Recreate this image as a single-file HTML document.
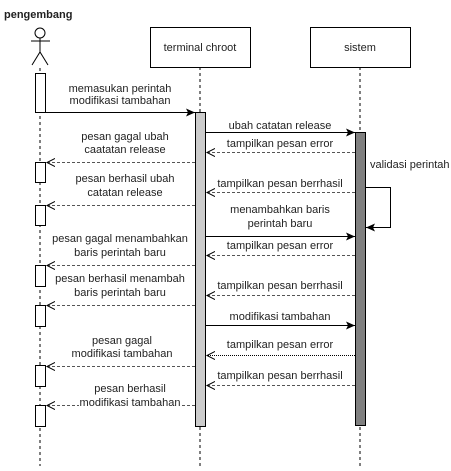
<!DOCTYPE html>
<html><head><style>body{margin:0;background:#fff}text{font-family:"Liberation Sans",Arial,sans-serif;font-size:11px;fill:#222}</style></head><body>
<svg width="451" height="466" xmlns="http://www.w3.org/2000/svg">
<defs>
<marker id="f" markerWidth="10" markerHeight="8" refX="9" refY="4" orient="auto" markerUnits="userSpaceOnUse"><path d="M0,0 L9,4 L0,8 L2,4 Z" fill="#000"/></marker>
<marker id="o" markerWidth="10" markerHeight="10" refX="8" refY="5" orient="auto" markerUnits="userSpaceOnUse"><path d="M0,1 L8,5 L0,9" fill="none" stroke="#000"/></marker>
</defs>
<text x="4" y="18" style="font-weight:bold">pengembang</text>
<circle cx="40" cy="33" r="5" fill="#fff" stroke="#000"/>
<line x1="40" y1="38" x2="40" y2="52" stroke="#000"/>
<line x1="31" y1="41" x2="50" y2="41" stroke="#000"/>
<path d="M32,65 L40,52 L48,65" fill="none" stroke="#000"/>
<g stroke="#000" stroke-dasharray="3,3">
<line x1="40" y1="68" x2="40" y2="466"/>
<line x1="200" y1="67" x2="200" y2="466"/>
<line x1="360" y1="67" x2="360" y2="466"/>
</g>
<rect x="150.5" y="27.5" width="100" height="40" fill="#fff" stroke="#000"/>
<text x="200" y="51" text-anchor="middle">terminal chroot</text>
<rect x="310.5" y="27.5" width="100" height="40" fill="#fff" stroke="#000"/>
<text x="360" y="51" text-anchor="middle">sistem</text>
<g fill="#fff" stroke="#000">
<rect x="35.5" y="73.5" width="10" height="39"/>
<rect x="35.5" y="162.5" width="10" height="20"/>
<rect x="35.5" y="205.5" width="10" height="20"/>
<rect x="35.5" y="265.5" width="10" height="21"/>
<rect x="35.5" y="305.5" width="10" height="21"/>
<rect x="35.5" y="365.5" width="10" height="21"/>
<rect x="35.5" y="405.5" width="10" height="21"/>
</g>
<rect x="195.5" y="112.5" width="10" height="314" fill="#ccc" stroke="#000"/>
<rect x="355.5" y="132.5" width="10" height="293" fill="#808080" stroke="#000"/>
<g stroke="#000" fill="none">
<line x1="45" y1="112.5" x2="195" y2="112.5" marker-end="url(#f)"/>
<line x1="205" y1="132.5" x2="355" y2="132.5" marker-end="url(#f)"/>
<line x1="205" y1="236.5" x2="355" y2="236.5" marker-end="url(#f)"/>
<line x1="205" y1="325.5" x2="355" y2="325.5" marker-end="url(#f)"/>
<path d="M365,187.5 H390.5 V227.5 H366" marker-end="url(#f)"/>
</g>
<g stroke="#555" stroke-dasharray="3,2" fill="none">
<line x1="355" y1="152.5" x2="207" y2="152.5" marker-end="url(#o)"/>
<line x1="195" y1="162.5" x2="47" y2="162.5" marker-end="url(#o)"/>
<line x1="355" y1="192.5" x2="207" y2="192.5" marker-end="url(#o)"/>
<line x1="195" y1="205.5" x2="47" y2="205.5" marker-end="url(#o)"/>
<line x1="355" y1="255.5" x2="207" y2="255.5" marker-end="url(#o)"/>
<line x1="195" y1="265.5" x2="47" y2="265.5" marker-end="url(#o)"/>
<line x1="355" y1="295.5" x2="207" y2="295.5" marker-end="url(#o)"/>
<line x1="195" y1="305.5" x2="47" y2="305.5" marker-end="url(#o)"/>
<line x1="355" y1="355.5" x2="207" y2="355.5" marker-end="url(#o)" stroke-dasharray="1,1" stroke="#000"/>
<line x1="195" y1="366.5" x2="47" y2="366.5" marker-end="url(#o)"/>
<line x1="355" y1="385.5" x2="207" y2="385.5" marker-end="url(#o)"/>
<line x1="195" y1="405.5" x2="47" y2="405.5" marker-end="url(#o)"/>
</g>
<g text-anchor="middle">
<text x="120" y="92">memasukan perintah</text><text x="120" y="104">modifikasi tambahan</text>
<text x="280" y="129">ubah catatan release</text>
<text x="280" y="147">tampilkan pesan error</text>
<text x="125" y="140">pesan gagal ubah</text><text x="125" y="153">caatatan release</text>
<text x="280" y="187">tampilkan pesan berrhasil</text>
<text x="125" y="182">pesan berhasil ubah</text><text x="125" y="196">catatan release</text>
<text x="280" y="213">menambahkan baris</text><text x="280" y="227">perintah baru</text>
<text x="280" y="249">tampilkan pesan error</text>
<text x="120" y="242">pesan gagal menambahkan</text><text x="120" y="256">baris perintah baru</text>
<text x="280" y="289">tampilkan pesan berrhasil</text>
<text x="120" y="282">pesan berhasil menambah</text><text x="120" y="296">baris perintah baru</text>
<text x="280" y="320">modifikasi tambahan</text>
<text x="280" y="348">tampilkan pesan error</text>
<text x="122" y="344">pesan gagal</text><text x="122" y="357">modifikasi tambahan</text>
<text x="280" y="379">tampilkan pesan berrhasil</text>
<text x="130" y="392">pesan berhasil</text>
</g>
<rect x="79" y="397" width="101" height="13" fill="#fff"/>
<text x="130" y="406" text-anchor="middle">modifikasi tambahan</text>
<text x="370" y="168">validasi perintah</text>
</svg>
</body></html>
